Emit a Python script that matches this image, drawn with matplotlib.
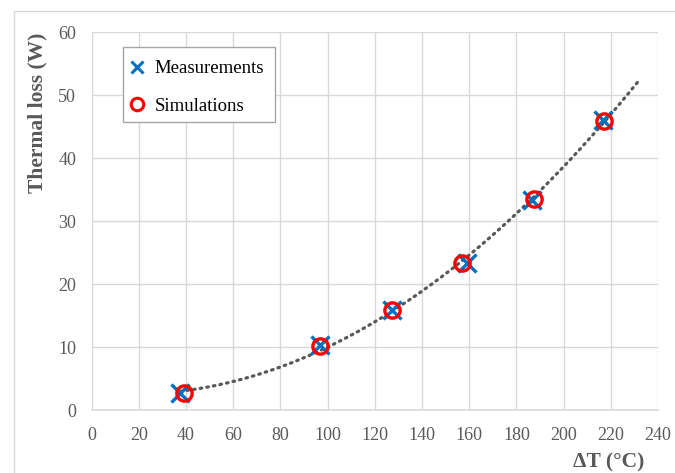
import numpy as np
import matplotlib.pyplot as plt
from matplotlib.patches import Rectangle

# values
meas_dt = [37.6, 96.6, 127.3, 159.0, 186.7, 216.8]
meas_loss = [2.7, 10.4, 15.9, 23.4, 33.4, 46.1]
sim_dt = [39.3, 97.0, 127.1, 156.8, 187.3, 217.2]
sim_loss = [2.8, 10.3, 15.9, 23.4, 33.6, 46.0]
trend_range = [37.6, 232.0]

x_ticks = list(range(0, 241, 20))
y_ticks = list(range(0, 61, 10))

BLUE = "#0070C0"
RED = "#FF0000"
GREY_TXT = "#595959"
GRID = "#D9D9D9"

plt.rcParams["font.family"] = ["Liberation Serif", "DejaVu Serif"]

fig = plt.figure(figsize=(6.75, 4.73), dpi=100)
ax = fig.add_axes([91.5 / 675, 1 - 410.5 / 473, (658 - 91.5) / 675, (410.5 - 32.5) / 473])

# outer chart frame (only top and left edges fall inside the picture)
fig.patches.append(Rectangle((13.5 / 675, -0.1), 1.2, 1.1 - 11.5 / 473,
                             transform=fig.transFigure, fill=False,
                             edgecolor=GRID, linewidth=1.0))

# 2nd order polynomial trendline through the measurements
coef = np.polyfit(meas_dt, meas_loss, 2)
xt = np.linspace(trend_range[0], trend_range[1], 200)
ax.plot(xt, np.polyval(coef, xt), linestyle=(0, (0.5, 1.6)), color=GREY_TXT,
        linewidth=2.3, dash_capstyle="round", zorder=2)

ax.plot(meas_dt, meas_loss, linestyle="none", marker="x", markersize=13,
        markeredgewidth=2.4, color=BLUE, label="Measurements", zorder=3)
ax.plot(sim_dt, sim_loss, linestyle="none", marker="o", markersize=11,
        markeredgewidth=2.4, markerfacecolor="none", markeredgecolor=RED,
        label="Simulations", zorder=4)

ax.set_xlim(0, 240)
ax.set_ylim(0, 60)
ax.set_xticks(x_ticks)
ax.set_yticks(y_ticks)
ax.grid(True, color=GRID, linewidth=1.0)
ax.set_axisbelow(True)
for side in ["top", "right", "left"]:
    ax.spines[side].set_visible(False)
ax.spines["bottom"].set_color(GRID)
ax.spines["bottom"].set_linewidth(1.2)
ax.tick_params(axis="both", length=0, labelsize=13, labelcolor=GREY_TXT)
ax.tick_params(axis="y", pad=11)
ax.tick_params(axis="x", pad=12)

fig.text(37 / 675, 1 - 113 / 473, "Thermal loss (W)", rotation=90, ha="center",
         va="center", fontsize=15.5, fontweight="bold", color=GREY_TXT)
fig.text(609 / 675, 1 - 462 / 473, "ΔT (°C)", ha="center", va="center",
         fontsize=15.5, fontweight="bold", color=GREY_TXT)

# legend box drawn separately so its padding can match the reference
ax.add_patch(Rectangle((0.0556, 0.763), 0.268, 0.198, transform=ax.transAxes,
                       facecolor="white", edgecolor="#A6A6A6", linewidth=1.0,
                       zorder=5))
leg = ax.legend(loc="upper left", bbox_to_anchor=(0.068, 0.927), fontsize=13.5,
                frameon=False, borderpad=0, labelspacing=1.1, handlelength=0.7,
                handletextpad=0.62, borderaxespad=0)
leg.set_zorder(6)
for h in leg.legend_handles:
    h.set_markersize(9)
    h.set_markeredgewidth(2.2)

fig.savefig("out.png", dpi=100)
